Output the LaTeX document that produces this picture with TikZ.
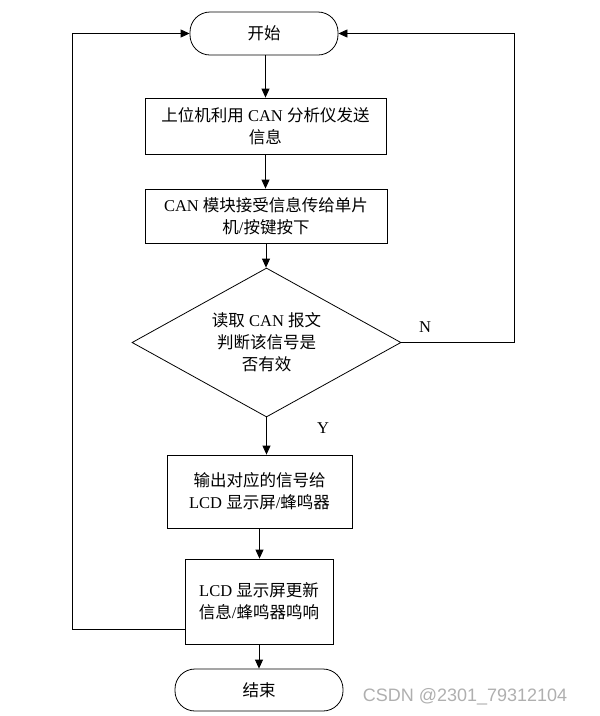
\documentclass[tikz,border=0pt]{standalone}
\usepackage{fontspec}
\setmainfont{Liberation Serif}
\newfontfamily\cjk{Noto Sans CJK SC}
\newfontfamily\wmfont{Liberation Sans}
\usetikzlibrary{shapes.geometric,arrows.meta}
\definecolor{wmgray}{RGB}{175,175,175}
\begin{document}
\begin{tikzpicture}[x=1pt,y=-1pt,
  every node/.style={font=\fontsize{16.5}{22}\selectfont, align=center, inner sep=0pt},
  term/.style={draw, line width=0.8pt, rounded corners=20pt},
  proc/.style={draw, line width=0.8pt, rectangle},
  decis/.style={draw, line width=0.8pt, diamond, aspect=1.8},
  flow/.style={line width=0.8pt, -{Triangle[length=9pt,width=8pt]}},
  plain/.style={line width=0.8pt}]
\useasboundingbox (0,0) rectangle (600,716);
\node[term, minimum width=148pt, minimum height=43pt] (s) at (264,33.5) {\cjk 开始};
\node[proc, minimum width=241pt, minimum height=56pt] (b1) at (265.5,126) {{\cjk 上位机利用} CAN {\cjk 分析仪发送}\\{\cjk 信息}};
\node[proc, minimum width=242pt, minimum height=54pt] (b2) at (266,216) {CAN {\cjk 模块接受信息传给单片}\\{\cjk 机}/{\cjk 按键按下}};
\node[decis, minimum width=269pt, minimum height=149pt] (d) at (266.5,342.5) {{\cjk 读取} CAN {\cjk 报文}\\{\cjk 判断该信号是}\\{\cjk 否有效}};
\node[proc, minimum width=185pt, minimum height=73pt] (b3) at (259.5,491.5) {{\cjk 输出对应的信号给}\\LCD {\cjk 显示屏}/{\cjk 蜂鸣器}};
\node[proc, minimum width=148pt, minimum height=85pt] (b4) at (259,601.5) {LCD {\cjk 显示屏更新}\\{\cjk 信息}/{\cjk 蜂鸣器鸣响}};
\node[term, minimum width=168pt, minimum height=42pt] (e) at (259,690) {\cjk 结束};
\node (nl) at (425,327) {N};
\node (yl) at (323,428) {Y};
\node[font=\wmfont\fontsize{18}{20}\selectfont, text=wmgray] (wm) at (465,697) {CSDN @2301\_79312104};
\coordinate (rr) at (514,342.5);
\coordinate (ll) at (72,629);
\draw[flow] (s.south -| b1.north) -- (b1.north);
\draw[flow] (b1.south) -- (b1.south |- b2.north);
\draw[flow] (b2.south) -- (b2.south |- d.north);
\draw[flow] (d.south) -- (d.south |- b3.north);
\draw[flow] (b3.south) -- (b3.south |- b4.north);
\draw[flow] (b4.south) -- (e.north);
\draw[flow] (d.east) -- (rr) |- (s.east);
\draw[flow] (b4.west |- ll) -- (ll) |- (s.west);
\end{tikzpicture}
\end{document}
